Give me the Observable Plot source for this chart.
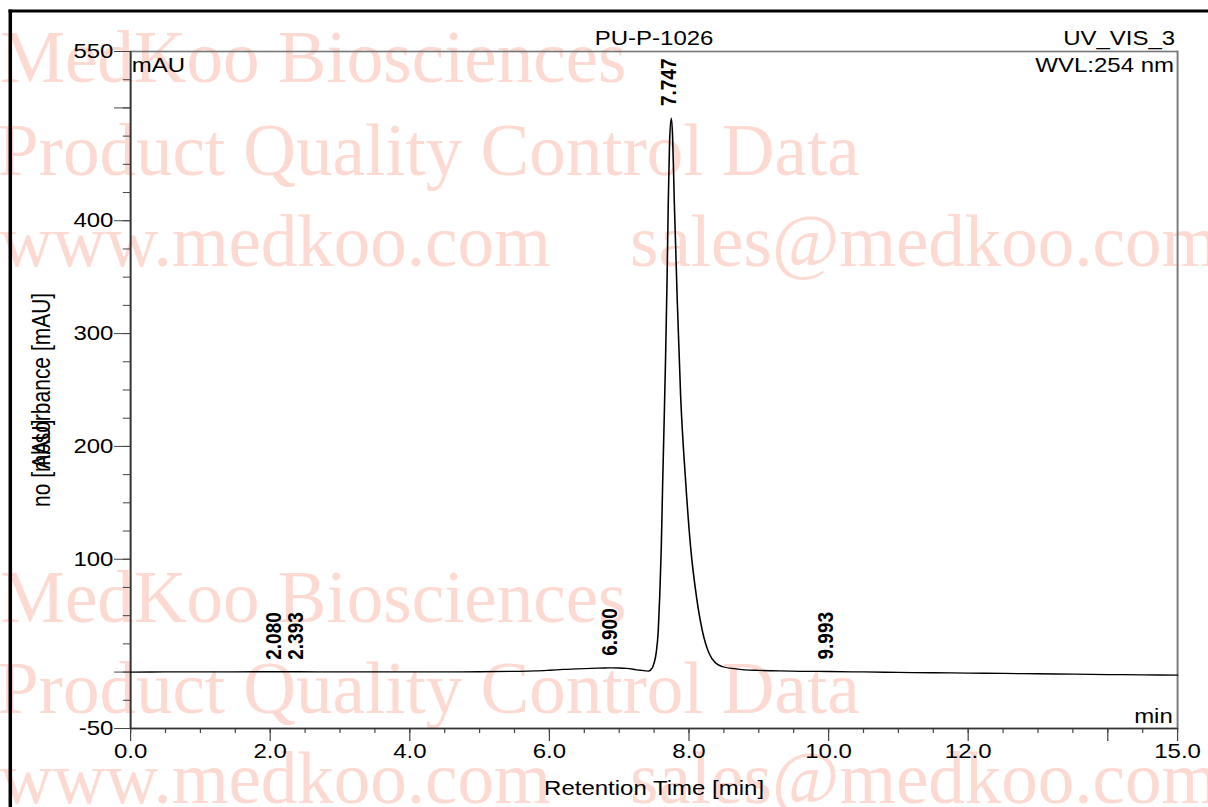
<!DOCTYPE html>
<html>
<head>
<meta charset="utf-8">
<script src="https://cdn.jsdelivr.net/npm/d3@7"></script>
<script src="https://cdn.jsdelivr.net/npm/@observablehq/plot@0.6"></script>
<style>
  html, body { margin: 0; padding: 0; background: white; }
  #page { position: relative; width: 1208px; height: 807px; overflow: hidden; background: white; }
  #wm { position: absolute; left: 0; top: 0; z-index: 0; }
  #chart { position: absolute; left: 0; top: 0; z-index: 1; transform: scaleX(1.2); transform-origin: 0 0; }
  #chart svg { background: transparent; max-width: none; }
</style>
</head>
<body>
<div id="page">
  <svg id="wm" width="1208" height="807" xmlns="http://www.w3.org/2000/svg">
    <g font-family="'Liberation Serif', 'Times New Roman', serif" font-size="73" fill="#fddad1">
      <text x="0" y="82">MedKoo Biosciences</text>
      <text x="-2" y="175">Product Quality Control Data</text>
      <text x="0" y="266">www.medkoo.com</text>
      <text x="630" y="266">sales@medkoo.com</text>
      <text x="0" y="622">MedKoo Biosciences</text>
      <text x="-2" y="713">Product Quality Control Data</text>
      <text x="0" y="803">www.medkoo.com</text>
      <text x="630" y="803">sales@medkoo.com</text>
    </g>
    <line x1="8.5" x2="1208" y1="11" y2="11" stroke="black" stroke-width="3"/>
    <line x1="10.3" x2="10.3" y1="9.5" y2="807" stroke="black" stroke-width="3.5"/>
  </svg>
  <div id="chart"></div>
</div>
<script>
// ---- chart texts ----
const title = "PU-P-1026";
const channelName = "UV_VIS_3";
const wavelength = "WVL:254 nm";
const yUnit = "mAU";
const xUnit = "min";
const xTitle = "Retention Time [min]";
const yTitle = "Absorbance [mAU]";
const yTitle2 = "no [mAU]";

// ---- chromatogram trace (retention time [min], absorbance [mAU]) ----
const chromTime = [0, 0.5, 1.0, 1.5, 2.0, 2.08, 2.393, 3.0, 3.5, 4.0, 4.5, 5.0, 5.5, 5.8, 6.0, 6.2, 6.4, 6.6, 6.8, 6.9, 7.0, 7.1, 7.2, 7.3, 7.38, 7.42, 7.45,
  7.50, 7.53, 7.56, 7.58, 7.603, 7.622, 7.645, 7.665, 7.685, 7.703, 7.722, 7.747, 7.765, 7.789, 7.832, 7.88, 7.951, 8.023, 8.109, 8.19, 8.285, 8.381,
  8.5, 8.65, 8.8, 9.0, 9.3, 9.6, 9.993, 10.5, 11.0, 11.5, 12.0, 12.5, 13.0, 13.5, 14.0, 14.5, 15.0];
const chromAbs = [0.0, 0.1, 0.1, 0.2, 0.3, 0.3, 0.3, 0.2, 0.2, 0.1, 0.2, 0.3, 0.6, 1.0, 1.6, 2.3, 2.9, 3.3, 3.6, 3.8, 3.6, 3.2, 2.5, 1.6, 1.0, 0.9, 1.8,
  8, 17, 37, 66, 110, 165, 225, 280, 345, 415, 470, 491, 475, 418, 329, 245, 170, 111, 66, 37, 17, 8,
  4.5, 3.0, 2.0, 1.5, 1.0, 0.7, 0.5, 0.1, -0.3, -0.6, -0.9, -1.2, -1.5, -1.9, -2.2, -2.5, -2.7];

// ---- peak annotations ----
const peakTimes = [2.080, 2.393, 6.900, 7.747, 9.993];
const peakHeights = [0.3, 0.3, 3.8, 491, 0.5];
const peakLabels = ["2.080", "2.393", "6.900", "7.747", "9.993"];

// ---- axis ticks ----
const xTickValues = [0, 2, 4, 6, 8, 10, 12, 14, 15];
const xTickLabels = ["0.0", "2.0", "4.0", "6.0", "8.0", "10.0", "12.0", "", "15.0"];
const yTickValues = [-50, 0, 100, 200, 300, 400, 500, 550];
const yTickLabels = ["-50", "", "100", "200", "300", "400", "", "550"];
const xMinorTicks = d3.range(0, 15.001, 0.5);
const yMinorTicks = d3.range(-50, 550.001, 25);

const S = 1.2; // horizontal stretch of the original picture
const W = 1208 / S;
const xLab = new Map(xTickValues.map((v, i) => [v, xTickLabels[i]]));
const yLab = new Map(yTickValues.map((v, i) => [v, yTickLabels[i]]));
const font = "'Liberation Sans', Arial, sans-serif";

const chart = Plot.plot({
  width: W,
  height: 807,
  marginLeft: 130 / S,
  marginRight: 31 / S,
  marginTop: 51,
  marginBottom: 79,
  x: {domain: [0, 15]},
  y: {domain: [-50, 550]},
  style: {fontFamily: font, fontSize: "20px", color: "black", background: "transparent", overflow: "visible"},
  marks: [
    Plot.frame({stroke: "#777", strokeWidth: 1.6}),
    Plot.axisY({ticks: yMinorTicks, tickSize: 6, tickFormat: () => "", label: null, stroke: "#444"}),
    Plot.axisY({ticks: yTickValues, tickSize: 13.3, tickPadding: 1, tickFormat: d => yLab.get(d), label: null, stroke: "#444", fill: "black", fontSize: 20}),
    Plot.axisX({ticks: xMinorTicks, tickSize: 5, tickFormat: () => "", label: null, stroke: "#444"}),
    Plot.axisX({ticks: xTickValues, tickSize: 13, tickPadding: 2, tickFormat: d => xLab.get(d), label: null, stroke: "#444", fill: "black", fontSize: 20}),
    Plot.ruleX([0], {stroke: "#333", strokeWidth: 1.3}),
    Plot.ruleY([-50], {stroke: "#333", strokeWidth: 1.3}),
    Plot.line(chromTime, {x: chromTime, y: chromAbs, curve: "monotone-x", stroke: "black", strokeWidth: 1.3}),
    Plot.text(peakLabels, {x: peakTimes, y: peakHeights, text: peakLabels, rotate: -90, textAnchor: "start", lineAnchor: "middle",
      dy: -12, dx: -2, fontWeight: "bold", fontSize: 19, fill: "black"}),
    Plot.text([title], {text: d => d, frameAnchor: "top", lineAnchor: "middle", dy: -13, fontSize: 20}),
    Plot.text([channelName], {text: d => d, frameAnchor: "top-right", textAnchor: "end", lineAnchor: "middle", dy: -13, dx: -2, fontSize: 20}),
    Plot.text([wavelength], {text: d => d, frameAnchor: "top-right", textAnchor: "end", lineAnchor: "middle", dy: 14, dx: -3, fontSize: 20}),
    Plot.text([yUnit], {text: d => d, frameAnchor: "top-left", textAnchor: "start", lineAnchor: "middle", dy: 14, dx: 1, fontSize: 20}),
    Plot.text([xUnit], {text: d => d, frameAnchor: "bottom-right", textAnchor: "end", lineAnchor: "middle", dy: -12, dx: -4, fontSize: 20}),
    Plot.text([xTitle], {text: d => d, frameAnchor: "bottom", lineAnchor: "middle", dy: 60, fontSize: 20}),
    Plot.text([yTitle], {text: d => d, frameAnchor: "left", rotate: -90, textAnchor: "start", lineAnchor: "middle", dx: -74, dy: 79, fontSize: 21}),
    Plot.text([yTitle2], {text: d => d, frameAnchor: "left", rotate: -90, textAnchor: "start", lineAnchor: "middle", dx: -74, dy: 117, fontSize: 21})
  ]
});
document.getElementById("chart").appendChild(chart);
</script>
</body>
</html>
